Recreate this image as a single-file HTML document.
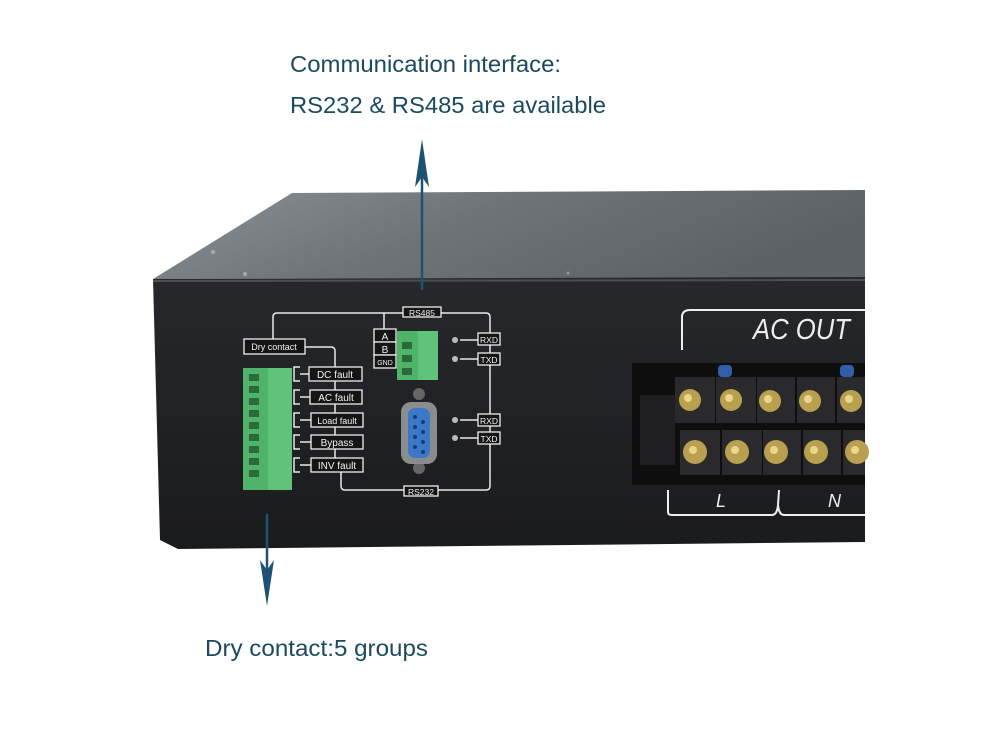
<!DOCTYPE html>
<html><head><meta charset="utf-8"><style>
html,body{margin:0;padding:0;background:#fff;}
svg{display:block;}
</style></head><body>
<svg width="1000" height="750" viewBox="0 0 1000 750" xmlns="http://www.w3.org/2000/svg" font-family="Liberation Sans, sans-serif">
<defs>
<linearGradient id="top" x1="0" y1="0" x2="1" y2="0.3">
<stop offset="0" stop-color="#8a9196"/><stop offset="0.5" stop-color="#6d7377"/><stop offset="1" stop-color="#5c6266"/>
</linearGradient>
<linearGradient id="front" x1="0" y1="0" x2="0" y2="1">
<stop offset="0" stop-color="#26282b"/><stop offset="1" stop-color="#1a1b1d"/>
</linearGradient>
</defs>
<rect width="1000" height="750" fill="#fff"/>
<text x="290" y="72" font-size="23.5" fill="#1b4a5e" textLength="271" lengthAdjust="spacingAndGlyphs">Communication interface:</text>
<text x="290" y="113" font-size="23.5" fill="#1b4a5e" textLength="316" lengthAdjust="spacingAndGlyphs">RS232 &amp; RS485 are available</text>
<text x="205" y="656" font-size="23.5" fill="#1b4a5e" textLength="223" lengthAdjust="spacingAndGlyphs">Dry contact:5 groups</text>

<!-- box -->
<polygon points="153,279 292,193 865,190 865,278" fill="url(#top)"/>
<polygon points="153,279 865,277 865,542 178,549 160,540" fill="url(#front)"/>
<line x1="153" y1="281" x2="865" y2="280" stroke="#4a5054" stroke-width="2"/>
<circle cx="213" cy="252" r="2" fill="#aaa"/><circle cx="245" cy="274" r="2" fill="#aaa"/><circle cx="568" cy="273" r="1.5" fill="#999"/>

<!-- panel lines -->
<g fill="none" stroke="#e8e8e8" stroke-width="1.5">
<path d="M273,340 V317 Q273,313 277,313 H486 Q490,313 490,317 V486 Q490,490 486,490 H345 Q341,490 341,486 V472"/>
<path d="M305,347 H331 Q335,347 335,351 V367"/>
<line x1="335" y1="381" x2="335" y2="390"/><line x1="335" y1="404" x2="335" y2="413"/><line x1="335" y1="427" x2="335" y2="435"/><line x1="335" y1="449" x2="335" y2="458"/>
<line x1="384" y1="313" x2="384" y2="329"/>
<line x1="460" y1="340" x2="478" y2="340"/><line x1="460" y1="359" x2="478" y2="359"/><line x1="460" y1="420" x2="478" y2="420"/><line x1="460" y1="438" x2="478" y2="438"/>
<path d="M300,367 H294 V381 H300 M300,374 H309"/>
<path d="M300,390 H294 V404 H300 M300,397 H310"/>
<path d="M300,413 H294 V427 H300 M300,420 H311"/>
<path d="M300,435 H294 V449 H300 M300,442 H311"/>
<path d="M300,458 H294 V472 H300 M300,465 H311"/>
</g>
<g fill="#151515" stroke="#eee" stroke-width="1.3" font-size="10" text-anchor="middle">
<rect x="244" y="339" width="61" height="15"/><rect x="309" y="367" width="53" height="14"/><rect x="310" y="390" width="52" height="14"/><rect x="311" y="413" width="52" height="14"/><rect x="311" y="435" width="52" height="14"/><rect x="311" y="458" width="52" height="14"/>
<rect x="403" y="307" width="38" height="10"/><rect x="404" y="486" width="34" height="10"/>
<rect x="374" y="329" width="22" height="13"/><rect x="374" y="342" width="22" height="13"/><rect x="374" y="355" width="22" height="13"/>
<rect x="478" y="333" width="22" height="12"/><rect x="478" y="353" width="22" height="12"/><rect x="478" y="414" width="22" height="12"/><rect x="478" y="432" width="22" height="12"/>
</g>
<g fill="#f0f0f0" font-size="10" text-anchor="middle">
<text x="274" y="350" font-size="9">Dry contact</text>
<text x="335" y="378">DC fault</text><text x="336" y="401">AC fault</text><text x="337" y="424" font-size="9">Load fault</text><text x="337" y="446">Bypass</text><text x="337" y="469">INV fault</text>
<text x="422" y="316" font-size="8.5">RS485</text><text x="421" y="495" font-size="8.5">RS232</text>
<text x="385" y="340">A</text><text x="385" y="353">B</text><text x="385" y="365" font-size="7">GND</text>
<text x="489" y="343" font-size="8.5">RXD</text><text x="489" y="363" font-size="8.5">TXD</text><text x="489" y="424" font-size="8.5">RXD</text><text x="489" y="442" font-size="8.5">TXD</text>
</g>
<g fill="#bbb"><circle cx="455" cy="340" r="3"/><circle cx="455" cy="359" r="3"/><circle cx="455" cy="420" r="3"/><circle cx="455" cy="438" r="3"/></g>
<rect x="243" y="368" width="49" height="122" fill="#4fb36a"/>
<rect x="268" y="368" width="24" height="122" fill="#5fc37a"/>
<g fill="#2b6b3a"><rect x="249" y="374" width="10" height="7"/><rect x="249" y="386" width="10" height="7"/><rect x="249" y="398" width="10" height="7"/><rect x="249" y="410" width="10" height="7"/><rect x="249" y="422" width="10" height="7"/><rect x="249" y="434" width="10" height="7"/><rect x="249" y="446" width="10" height="7"/><rect x="249" y="458" width="10" height="7"/><rect x="249" y="470" width="10" height="7"/></g>
<rect x="397" y="331" width="41" height="49" fill="#4fb36a"/>
<rect x="418" y="331" width="20" height="49" fill="#5fc37a"/>
<g fill="#2b6b3a"><rect x="402" y="342" width="10" height="7"/><rect x="402" y="355" width="10" height="7"/><rect x="402" y="368" width="10" height="7"/></g>
<circle cx="419" cy="394" r="6" fill="#666"/><circle cx="419" cy="468" r="6" fill="#666"/>
<rect x="401" y="402" width="36" height="62" rx="10" fill="#8a8d90"/>
<rect x="408" y="408" width="22" height="50" rx="7" fill="#3b78c8"/>
<g fill="#173e70"><circle cx="415" cy="417" r="2"/><circle cx="415" cy="427" r="2"/><circle cx="415" cy="437" r="2"/><circle cx="415" cy="447" r="2"/><circle cx="423" cy="422" r="2"/><circle cx="423" cy="432" r="2"/><circle cx="423" cy="442" r="2"/><circle cx="423" cy="452" r="2"/></g>

<!-- AC OUT -->
<path d="M682,350 V316 Q683,310 690,310 H865" fill="none" stroke="#eee" stroke-width="2"/>
<text x="753" y="339" font-size="29" fill="#eee" font-style="italic" textLength="97" lengthAdjust="spacingAndGlyphs">AC  OUT</text>
<rect x="632" y="363" width="233" height="122" fill="#0e0e0f"/>
<rect x="640" y="395" width="35" height="70" fill="#1f1f21"/>
<g fill="#2a2a2c"><rect x="675" y="377" width="40" height="46"/><rect x="716" y="377" width="40" height="46"/><rect x="757" y="377" width="38" height="46"/><rect x="797" y="377" width="38" height="46"/><rect x="837" y="377" width="28" height="46"/>
<rect x="680" y="430" width="40" height="45"/><rect x="722" y="430" width="40" height="45"/><rect x="763" y="430" width="38" height="45"/><rect x="803" y="430" width="38" height="45"/><rect x="843" y="430" width="22" height="45"/></g>
<g fill="#b8a050"><circle cx="690" cy="400" r="11"/><circle cx="731" cy="400" r="11"/><circle cx="770" cy="401" r="11"/><circle cx="810" cy="401" r="11"/><circle cx="851" cy="401" r="11"/>
<circle cx="695" cy="452" r="12"/><circle cx="737" cy="452" r="12"/><circle cx="776" cy="452" r="12"/><circle cx="816" cy="452" r="12"/><circle cx="857" cy="452" r="12"/></g>
<g fill="#e8d88a"><circle cx="688" cy="398" r="4"/><circle cx="729" cy="398" r="4"/><circle cx="768" cy="399" r="4"/><circle cx="808" cy="399" r="4"/><circle cx="849" cy="399" r="4"/><circle cx="693" cy="450" r="4"/><circle cx="735" cy="450" r="4"/><circle cx="774" cy="450" r="4"/><circle cx="814" cy="450" r="4"/><circle cx="855" cy="450" r="4"/></g>
<rect x="718" y="365" width="14" height="12" rx="4" fill="#2f5fa8"/><rect x="840" y="365" width="14" height="12" rx="4" fill="#2f5fa8"/>
<path d="M668,490 V512 Q668,515 672,515 H772 Q777,515 778,505 Q779,515 784,515 H865" fill="none" stroke="#eee" stroke-width="2"/>
<line x1="778" y1="505" x2="779" y2="490" stroke="#eee" stroke-width="2"/>
<text x="716" y="507" font-size="18" fill="#eee" font-style="italic">L</text>
<text x="828" y="507" font-size="18" fill="#eee" font-style="italic">N</text>

<g stroke="#1d5275" stroke-width="2.5" fill="#1d5275">
<line x1="422" y1="290" x2="422" y2="160"/>
<line x1="267" y1="514" x2="267" y2="585"/>
</g>
<polygon points="422,139 415,187 422,177 429,187" fill="#1d5275"/>
<polygon points="267,606 260,560 267,570 274,560" fill="#1d5275"/>
</svg>
</body></html>
